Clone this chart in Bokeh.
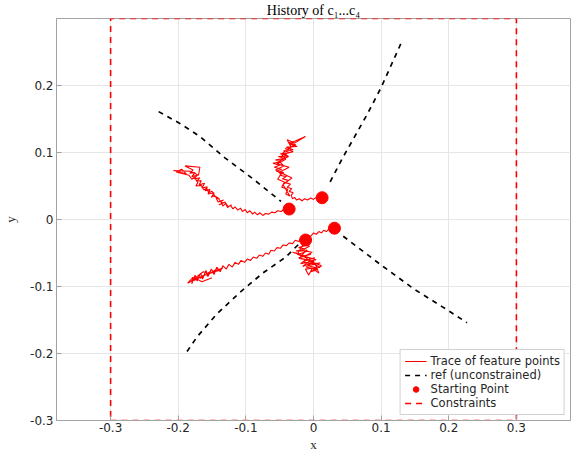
from bokeh.plotting import figure
from bokeh.models import Range1d, FixedTicker, Legend, LegendItem, Title
from bokeh.embed import file_html
from bokeh.resources import INLINE

# ---------------- data ----------------
trace1_x = [-0.036, -0.040, -0.044, -0.048, -0.053, -0.057, -0.062, -0.066, -0.071, -0.075,
            -0.079, -0.083, -0.087, -0.090, -0.094, -0.098, -0.101, -0.105, -0.108, -0.112,
            -0.116, -0.119, -0.123, -0.127, -0.130, -0.134, -0.137, -0.133, -0.141, -0.144,
            -0.139, -0.148, -0.151, -0.147, -0.156, -0.153, -0.160, -0.157, -0.165, -0.161,
            -0.169, -0.166, -0.173, -0.168, -0.177, -0.172, -0.180, -0.175, -0.183, -0.178,
            -0.190, -0.168, -0.170, -0.182, -0.207, -0.188, -0.195, -0.203, -0.184, -0.180,
            -0.176, -0.171, -0.174, -0.166, -0.162, -0.158, -0.155, -0.150, -0.146, -0.142,
            -0.138, -0.134, -0.140, -0.131, -0.126, -0.121]
trace1_y = [0.016, 0.014, 0.015, 0.012, 0.013, 0.010, 0.011, 0.008, 0.009, 0.006,
            0.010, 0.007, 0.011, 0.008, 0.013, 0.010, 0.015, 0.012, 0.017, 0.014,
            0.019, 0.016, 0.021, 0.018, 0.024, 0.020, 0.027, 0.029, 0.026, 0.032,
            0.031, 0.035, 0.033, 0.040, 0.038, 0.045, 0.043, 0.049, 0.047, 0.054,
            0.052, 0.058, 0.057, 0.062, 0.061, 0.066, 0.064, 0.070, 0.069, 0.074,
            0.080, 0.078, 0.066, 0.072, 0.073, 0.068, 0.075, 0.071, 0.066, 0.060,
            0.063, 0.055, 0.050, 0.051, 0.044, 0.047, 0.040, 0.042, 0.035, 0.033,
            0.028, 0.024, 0.022, 0.026, 0.019, 0.022]

trace2_x = [0.013, 0.009, 0.004, 0.000, -0.004, -0.009, -0.013, -0.017, -0.021, -0.025,
            -0.028, -0.031, -0.033, -0.030, -0.036, -0.032, -0.039, -0.034, -0.042, -0.037,
            -0.046, -0.040, -0.050, -0.044, -0.055, -0.047, -0.058, -0.050, -0.060, -0.048,
            -0.056, -0.043, -0.052, -0.038, -0.049, -0.035, -0.044, -0.030, -0.040, -0.024,
            -0.036, -0.012, -0.028, -0.039, -0.033, -0.045, -0.037, -0.051, -0.044, -0.056,
            -0.048, -0.053, -0.043, -0.047, -0.038, -0.041, -0.035, -0.045, -0.032, -0.050,
            -0.036, -0.054, -0.041, -0.047, -0.030, -0.042, -0.026, -0.038]
trace2_y = [0.033, 0.031, 0.033, 0.030, 0.032, 0.029, 0.031, 0.028, 0.031, 0.029,
            0.033, 0.031, 0.036, 0.040, 0.042, 0.046, 0.048, 0.053, 0.055, 0.058,
            0.061, 0.064, 0.066, 0.070, 0.072, 0.075, 0.078, 0.081, 0.084, 0.086,
            0.089, 0.091, 0.094, 0.095, 0.098, 0.100, 0.103, 0.104, 0.108, 0.109,
            0.113, 0.124, 0.114, 0.119, 0.108, 0.100, 0.094, 0.087, 0.080, 0.074,
            0.068, 0.060, 0.056, 0.048, 0.045, 0.038, 0.035, 0.052, 0.062, 0.071,
            0.078, 0.083, 0.090, 0.097, 0.101, 0.106, 0.111, 0.116]

trace3_x = [0.031, 0.027, 0.023, 0.019, 0.015, 0.012, 0.008, 0.004, 0.000, -0.004,
            -0.008, -0.013, -0.018, -0.022, -0.027, -0.031, -0.036, -0.040, -0.045, -0.049,
            -0.054, -0.058, -0.063, -0.066, -0.071, -0.075, -0.080, -0.084, -0.089, -0.093,
            -0.098, -0.102, -0.107, -0.111, -0.116, -0.120, -0.125, -0.129, -0.134, -0.138,
            -0.143, -0.147, -0.151, -0.156, -0.159, -0.164, -0.167, -0.172, -0.175, -0.180,
            -0.178, -0.186, -0.170, -0.177, -0.160, -0.168, -0.152, -0.158, -0.142, -0.149,
            -0.134, -0.140, -0.155, -0.163, -0.181, -0.172, -0.165, -0.150]
trace3_y = [-0.013, -0.016, -0.014, -0.018, -0.016, -0.020, -0.018, -0.022, -0.020, -0.025,
            -0.024, -0.029, -0.028, -0.033, -0.031, -0.036, -0.035, -0.039, -0.038, -0.043,
            -0.042, -0.047, -0.046, -0.052, -0.050, -0.055, -0.053, -0.058, -0.056, -0.061,
            -0.059, -0.064, -0.061, -0.067, -0.064, -0.071, -0.067, -0.074, -0.069, -0.078,
            -0.071, -0.082, -0.074, -0.085, -0.076, -0.089, -0.080, -0.092, -0.083, -0.096,
            -0.086, -0.095, -0.086, -0.091, -0.082, -0.088, -0.077, -0.084, -0.073, -0.079,
            -0.072, -0.076, -0.081, -0.078, -0.092, -0.089, -0.093, -0.087]

trace4_x = [-0.012, -0.018, -0.010, -0.022, -0.012, -0.026, -0.008, -0.020, -0.031, -0.014,
            -0.004, -0.022, -0.010, 0.002, -0.016, -0.004, 0.010, -0.008, 0.004, -0.012,
            -0.007, -0.002, 0.008, 0.003, 0.010, -0.006, 0.004, -0.013, -0.002, -0.017,
            -0.006, -0.014, -0.024, -0.009, -0.019, 0.001, -0.011, 0.006, -0.004, 0.012,
            -0.001, -0.016, -0.005, -0.021, -0.010]
trace4_y = [-0.031, -0.036, -0.038, -0.042, -0.044, -0.047, -0.047, -0.051, -0.049, -0.054,
            -0.052, -0.057, -0.060, -0.057, -0.063, -0.066, -0.065, -0.069, -0.072, -0.074,
            -0.083, -0.073, -0.080, -0.068, -0.072, -0.062, -0.060, -0.055, -0.049, -0.046,
            -0.040, -0.035, -0.052, -0.058, -0.066, -0.062, -0.071, -0.075, -0.078, -0.069,
            -0.064, -0.070, -0.061, -0.058, -0.045]

ref1_x = [0.129, 0.100, 0.080, 0.061, 0.042, 0.022]
ref1_y = [0.262, 0.197, 0.158, 0.124, 0.090, 0.051]
ref2_x = [-0.229, -0.197, -0.168, -0.131, -0.090, -0.048]
ref2_y = [0.161, 0.143, 0.124, 0.092, 0.061, 0.027]
ref3_x = [0.044, 0.100, 0.149, 0.190, 0.227]
ref3_y = [-0.025, -0.068, -0.104, -0.130, -0.154]
ref4_x = [-0.187, -0.172, -0.143, -0.109, -0.075, -0.041, -0.021]
ref4_y = [-0.197, -0.175, -0.141, -0.109, -0.080, -0.056, -0.036]

start_x = [-0.036, 0.0127, 0.031, -0.0117]
start_y = [0.0156, 0.0325, -0.013, -0.0306]

constraint_x = [-0.3, 0.3, 0.3, -0.3, -0.3]
constraint_y = [-0.3, -0.3, 0.3, 0.3, -0.3]

x_limits = [-0.38, 0.38]
y_limits = [-0.3, 0.3]
x_ticks = [-0.3, -0.2, -0.1, 0, 0.1, 0.2, 0.3]
x_tick_labels = ["-0.3", "-0.2", "-0.1", "0", "0.1", "0.2", "0.3"]
y_ticks = [-0.3, -0.2, -0.1, 0, 0.1, 0.2]
y_tick_labels = ["-0.3", "-0.2", "-0.1", "0", "0.1", "0.2"]

legend_labels = ["Trace of feature points", "ref (unconstrained)", "Starting Point", "Constraints"]
title_text = "History of c\u2081...c\u2084"
x_label = "x"
y_label = "y"

# ---------------- figure ----------------
AX = "#a3a3a3"
TXT = "#262626"
RED = "#ff0000"

p = figure(width=571, height=454, x_range=Range1d(*x_limits), y_range=Range1d(*y_limits),
           output_backend="svg", toolbar_location=None, min_border=1)
p.title = Title(text=title_text, align="center", standoff=1,
                text_font="Liberation Serif", text_font_size="14px",
                text_font_style="normal", text_color="black")
p.background_fill_color = "white"
p.border_fill_color = "white"
p.outline_line_color = AX
p.outline_line_width = 1

for ax, ticks, labs, name in [(p.xaxis[0], x_ticks, x_tick_labels, x_label),
                              (p.yaxis[0], y_ticks, y_tick_labels, y_label)]:
    ax.ticker = FixedTicker(ticks=ticks)
    ax.major_label_overrides = dict(zip(ticks, labs))
    ax.major_label_text_font = "DejaVu Sans"
    ax.major_label_text_font_size = "12px"
    ax.major_label_text_color = TXT
    ax.major_label_standoff = 3
    ax.major_tick_in = 5
    ax.major_tick_out = 0
    ax.major_tick_line_color = AX
    ax.minor_tick_line_color = None
    ax.axis_line_color = AX
    ax.axis_label = name
    ax.axis_label_text_font = "Liberation Serif"
    ax.axis_label_text_font_style = "normal"
    ax.axis_label_text_font_size = "13px"
    ax.axis_label_text_color = TXT

p.xaxis[0].major_label_standoff = 2
p.xaxis[0].axis_label_standoff = 2
p.yaxis[0].axis_label_standoff = 9

p.grid.grid_line_color = "#e6e6e6"
p.grid.grid_line_width = 1

trace_renderers = []
for tx, ty in [(trace1_x, trace1_y), (trace2_x, trace2_y), (trace3_x, trace3_y), (trace4_x, trace4_y)]:
    trace_renderers.append(p.line(tx, ty, line_color=RED, line_width=1.1))
r_ref = p.multi_line(xs=[ref1_x, ref2_x, ref3_x, ref4_x],
                     ys=[ref1_y, ref2_y, ref3_y, ref4_y],
                     line_color="black", line_width=1.7, line_dash="5 5")
r_start = p.scatter(start_x, start_y, size=12, color=RED)
r_cons = p.line(constraint_x, constraint_y, line_color=RED, line_width=1.6, line_dash="6 5")

legend = Legend(items=[LegendItem(label=legend_labels[0], renderers=[trace_renderers[0]]),
                       LegendItem(label=legend_labels[1], renderers=[r_ref]),
                       LegendItem(label=legend_labels[2], renderers=[r_start]),
                       LegendItem(label=legend_labels[3], renderers=[r_cons])],
                location="bottom_right")
legend.label_text_font = "DejaVu Sans"
legend.label_text_font_size = "11.5px"
legend.label_text_color = TXT
legend.label_height = 14
legend.glyph_height = 14
legend.glyph_width = 22
legend.label_standoff = 4
legend.spacing = 0
legend.padding = 4
legend.margin = 5
legend.border_line_color = AX
legend.border_line_width = 1
legend.background_fill_color = "white"
legend.background_fill_alpha = 1
p.add_layout(legend)

open("out.html", "w").write(file_html(p, INLINE))
